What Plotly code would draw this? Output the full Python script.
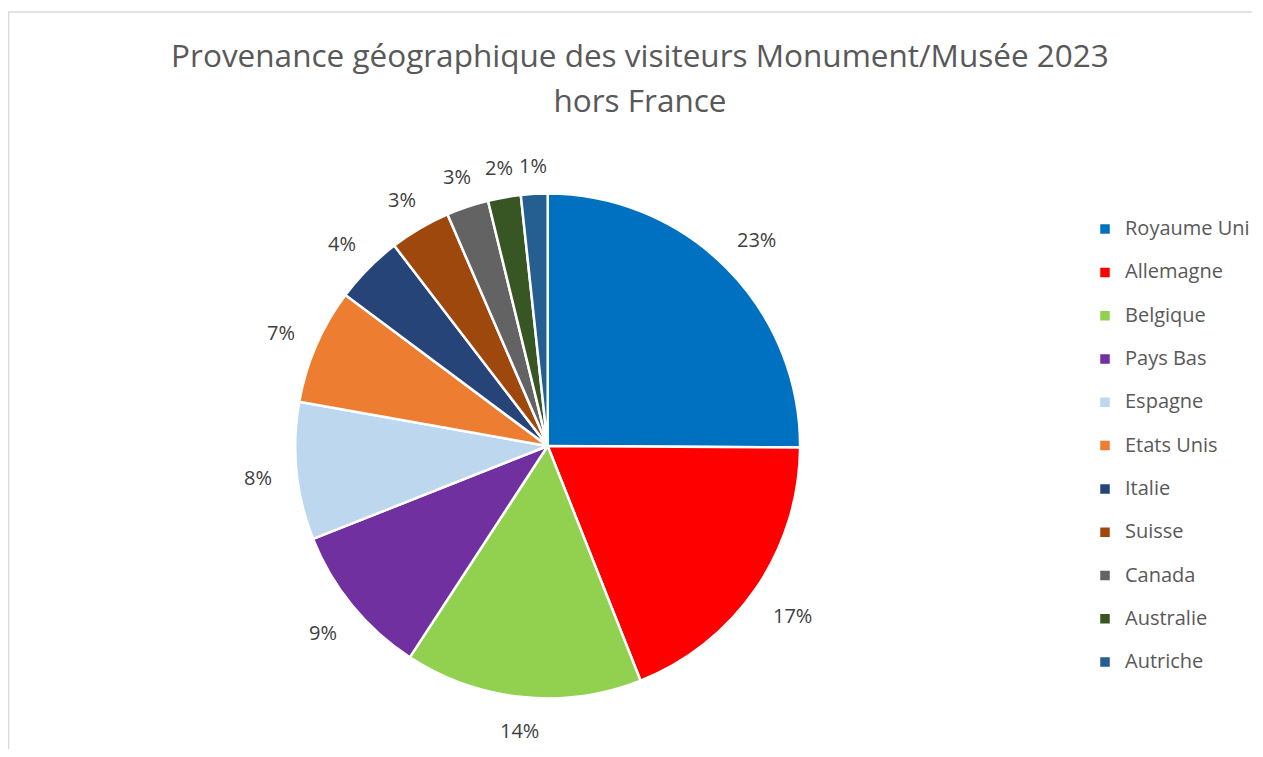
import numpy as np
import plotly.graph_objects as go

# === DONNEES ===
pays = ["Royaume Uni", "Allemagne", "Belgique", "Pays Bas", "Espagne", "Etats Unis",
        "Italie", "Suisse", "Canada", "Australie", "Autriche"]
parts = [25.1, 18.9, 15.2, 9.8, 8.8, 7.4, 4.4, 3.9, 2.7, 2.1, 1.7]
# étiquettes affichées sur le graphique
etiquettes = ["23%", "17%", "14%", "9%", "8%", "7%", "4%", "3%", "3%", "2%", "1%"]
couleurs = ["#0070C0", "#FF0000", "#92D050", "#7030A0", "#BDD7EE", "#ED7D31",
            "#264478", "#9E480E", "#636363", "#375623", "#255E91"]

# la page ajoute une marge de 8px autour de la figure
W, H = 1247, 741
cx, cy, r = 541, 438, 253

# libellés de légende (2 lignes pour espacer les entrées comme dans Excel)
legende = [f"<span style='font-size:20px'>{p}</span><br>\u00a0" for p in pays]

fig = go.Figure()
fig.add_trace(go.Pie(
    labels=legende, values=parts,
    textinfo='none',
    marker=dict(colors=couleurs, line=dict(color='white', width=2.5)),
    sort=False, direction='clockwise', rotation=0,
    hoverinfo='skip',
    domain=dict(x=[(cx - r) / W, (cx + r) / W], y=[1 - (cy + r) / H, 1 - (cy - r) / H]),
))

# étiquettes de pourcentage à l'extérieur, placées au milieu de chaque secteur
vals = np.array(parts, dtype=float)
cum = np.cumsum(vals) - vals / 2
theta = cum / vals.sum() * 2 * np.pi
for t, lab in zip(theta, etiquettes):
    s, c = np.sin(t), -np.cos(t)
    d = r + 24 + 7 * len(lab) * abs(s) + 5 * abs(c)
    fig.add_annotation(
        x=(cx + d * s) / W, y=1 - (cy + d * c) / H, xref='paper', yref='paper',
        text=lab, showarrow=False, xanchor='center', yanchor='middle', yshift=-2,
        font=dict(size=20, color='#404040', family="Open Sans"),
    )

titre = "Provenance géographique des visiteurs Monument/Musée 2023<br>hors France"
span = "<span style='font-size:31.5px'>"
fig.update_layout(
    width=W, height=H,
    margin=dict(l=0, r=0, t=0, b=0),
    paper_bgcolor='white', plot_bgcolor='white',
    font=dict(family="Open Sans", color='#595959'),
    title=dict(text=span + titre.replace('<br>', '</span><br>' + span) + '</span>',
               x=632 / W, xanchor='center', y=1 - 59 / H, yanchor='top',
               font=dict(size=34.5, color='#595959', family="Open Sans")),
    legend=dict(x=1080 / W, xanchor='left', y=1 - 448 / H, yanchor='middle',
                font=dict(size=15.5, color='#595959'), valign='top',
                bgcolor='rgba(0,0,0,0)'),
    shapes=[
        dict(type='line', xref='paper', yref='paper', x0=0.5 / W, x1=1, y0=1 - 4 / H, y1=1 - 4 / H,
             line=dict(color='#D9D9D9', width=1.5)),
        dict(type='line', xref='paper', yref='paper', x0=0.5 / W, x1=0.5 / W, y0=0, y1=1 - 4 / H,
             line=dict(color='#D9D9D9', width=1.5)),
    ],
)

fig.write_html("out.html")
